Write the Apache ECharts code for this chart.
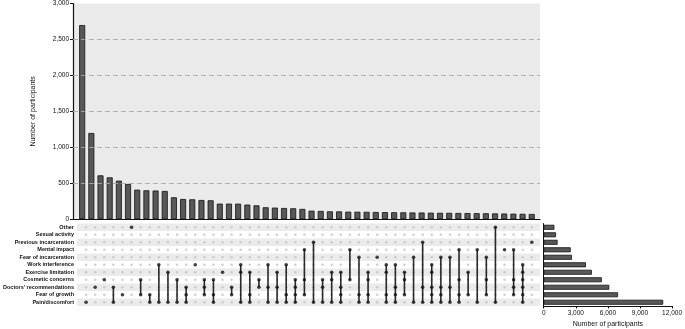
<!DOCTYPE html>
<html><head><meta charset="utf-8">
<script src="https://cdn.jsdelivr.net/npm/echarts@6/dist/echarts.min.js"></script>
<style>html,body{margin:0;padding:0;background:#fff}#c{width:685px;height:329px}</style>
</head><body><div id="c"></div>
<script>
const sets = ['Other','Sexual activity','Previous incarceration','Mental impact','Fear of incarceration','Work interference','Exercise limitation','Cosmetic concerns',"Doctors' recommendations",'Fear of growth','Pain/discomfort'];
const setSizes = [1000,1150,1300,2520,2640,3950,4500,5430,6130,6950,11170];
const intersectionCounts = [2700,1200,611,583,537,491,412,403,400,394,306,282,278,268,264,218,218,217,204,194,167,162,157,153,144,120,116,111,110,106,105,104,101,100,98,97,95,94,92,91,90,88,87,85,84,82,80,78,76,74];
const intersectionMembers = [
 [10],[8],[7],[8,10],[9],[0],[7,9],[9,10],[5,10],[6,10],
 [7,10],[8,9,10],[5],[7,8,9],[7,9,10],[6],[8,9],[5,6,10],[6,9,10],[7,8],
 [5,8,10],[6,8,10],[5,9,10],[7,8,9,10],[3,7,9],[2,10],[7,8,10],[6,7,10],[6,8,9,10],[3,7],
 [4,9,10],[6,7,9,10],[4],[5,6,9,10],[5,8,9,10],[6,7,9],[4,10],[2,8,10],[5,6,8,9,10],[4,8,9,10],
 [4,8,10],[3,7,9,10],[6,9],[3,10],[4,7,9],[0,10],[3],[3,7,8,9],[5,6,7,8,9,10],[2]
];
const topTicks = [0,500,1000,1500,2000,2500,3000];
const sideTicks = [0,3000,6000,9000,12000];

const FONT = 'Liberation Sans';
const fmt = v => v.toLocaleString('en-US');
const barData = intersectionCounts.map((v,i)=>[i+1,v]);
const inactive = [], active = [], connectors = [];
intersectionMembers.forEach((m,i)=>{
  for (let r=0;r<sets.length;r++){
    if (m.indexOf(r)>=0) active.push([i+1,r]); else inactive.push([i+1,r]);
  }
  if (m.length>1) connectors.push([i+1, Math.min(...m), Math.max(...m)]);
});
const stripes = sets.map((s,i)=>[i]);

const chart = echarts.init(document.getElementById('c'), null, {renderer:'canvas'});
chart.setOption({
  animation:false,
  textStyle:{fontFamily:FONT},
  grid:[
    {left:73, top:3.3, width:467, height:216, show:true, backgroundColor:'#ebebeb', borderWidth:0},
    {left:73, top:223.55, width:467, height:82.5},
    {left:543.7, top:223.55, width:137.3, height:82.5}
  ],
  xAxis:[
    {gridIndex:0, type:'value', min:0, max:50.9, axisLine:{show:true,lineStyle:{color:'#111',width:1.2}}, axisTick:{show:false}, axisLabel:{show:false}, splitLine:{show:false}},
    {gridIndex:1, type:'value', min:0, max:50.9, show:false},
    {gridIndex:2, type:'value', min:sideTicks[0], max:sideTicks[sideTicks.length-1], interval:3000,
     axisLine:{show:true,lineStyle:{color:'#111',width:1}}, axisTick:{show:true,length:2.5,lineStyle:{color:'#111'}},
     axisLabel:{fontSize:6.5,color:'#111',margin:4,formatter:fmt}, splitLine:{show:false},
     name:'Number of participants', nameLocation:'middle', nameGap:15, nameTextStyle:{fontSize:7,color:'#111'}}
  ],
  yAxis:[
    {gridIndex:0, type:'value', min:topTicks[0], max:topTicks[topTicks.length-1], interval:500,
     axisLine:{show:true,lineStyle:{color:'#111',width:1.2}}, axisTick:{show:true,length:3,lineStyle:{color:'#111'}},
     axisLabel:{fontSize:6.5,color:'#111',margin:4,formatter:fmt},
     splitLine:{show:false},
     name:'Number of participants', nameLocation:'middle', nameGap:36, nameRotate:90, nameTextStyle:{fontSize:7,color:'#111'}},
    {gridIndex:1, type:'category', data:sets, inverse:true,
     axisLine:{show:false}, axisTick:{show:false}, splitLine:{show:false},
     axisLabel:{interval:0, fontSize:5.5,fontWeight:'bold',color:'#111',margin:3}},
    {gridIndex:2, type:'category', data:sets, inverse:true,
     axisLine:{show:true,lineStyle:{color:'#111',width:1}}, axisTick:{show:false}, axisLabel:{show:false}}
  ],
  series:[
    {type:'bar', xAxisIndex:0, yAxisIndex:0, data:barData, barWidth:6,
     itemStyle:{color:'#585858', borderColor:'#111', borderWidth:0.8},
     markLine:{silent:true, symbol:'none', label:{show:false},
       lineStyle:{type:[5,3], color:'#a8a8a8', width:0.9},
       data:topTicks.filter(t=>t>0 && t<3000).map(t=>({yAxis:t}))}},
    {type:'custom', xAxisIndex:1, yAxisIndex:1, data:stripes, silent:true, z:0,
     renderItem:(params,api)=>{
       const r = api.value(0);
       const p = api.coord([0,r]);
       const h = api.size([0,1])[1];
       return {type:'rect', shape:{x:params.coordSys.x, y:p[1]-h/2, width:params.coordSys.width, height:h},
               style:{fill: r%2===0 ? '#ebebeb' : '#ffffff'}};
     }},
    {type:'scatter', xAxisIndex:1, yAxisIndex:1, data:inactive, symbolSize:2.6, itemStyle:{color:'#c4c4c4'}, z:2},
    {type:'custom', xAxisIndex:1, yAxisIndex:1, data:connectors, z:3,
     renderItem:(params,api)=>{
       const a = api.coord([api.value(0), api.value(1)]);
       const b = api.coord([api.value(0), api.value(2)]);
       return {type:'line', shape:{x1:a[0],y1:a[1],x2:b[0],y2:b[1]}, style:{stroke:'#2a2a2a', lineWidth:1.6}};
     }},
    {type:'scatter', xAxisIndex:1, yAxisIndex:1, data:active, symbolSize:3.6, itemStyle:{color:'#111'}, z:4},
    {type:'bar', xAxisIndex:2, yAxisIndex:2, data:setSizes, barWidth:5,
     itemStyle:{color:'#585858', borderColor:'#111', borderWidth:0.8}}
  ]
});
</script></body></html>
